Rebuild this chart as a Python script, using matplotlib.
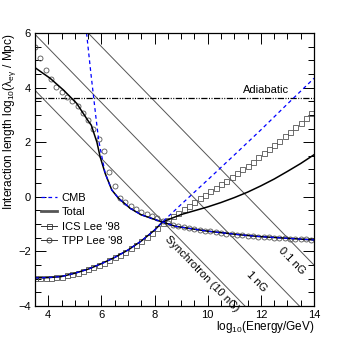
import numpy as np
import matplotlib
matplotlib.use("Agg")
import matplotlib.pyplot as plt
from matplotlib.lines import Line2D

plt.rcParams['font.family'] = ['Liberation Sans', 'DejaVu Sans']
plt.rcParams['mathtext.fontset'] = 'custom'
plt.rcParams['mathtext.rm'] = 'Liberation Sans'
plt.rcParams['mathtext.it'] = 'Liberation Sans:italic'
plt.rcParams['mathtext.default'] = 'regular'

# synchrotron loss lengths (straight lines), end points at x = 3.5 and 14
sync_x = [3.5, 14.0]
sync_10nG = [3.90, -6.60]
sync_1nG = [5.95, -4.55]
sync_01nG = [8.00, -2.50]
adiabatic = 3.63

# CMB only: photon pair production branch and electron ICS branch
cmb_pp_x = [5.44, 5.60, 5.70, 5.80, 5.90, 6.14, 6.39, 6.64, 7.08, 7.50, 8.28, 8.78, 10.0, 11.3, 12.0, 13.0, 14.0]
cmb_pp_y = [6.00, 4.55, 3.70, 2.85, 2.05, 0.86, 0.25, -0.05, -0.42, -0.66, -0.92, -1.08, -1.26, -1.40, -1.46, -1.52, -1.58]
cmb_ics_x = [3.5, 4.0, 4.5, 5.0, 5.5, 6.0, 6.5, 7.0, 7.5, 8.0, 8.3, 9.0, 10.0, 11.0, 12.0, 13.0, 14.0]
cmb_ics_y = [-2.97, -2.96, -2.92, -2.80, -2.65, -2.45, -2.22, -1.95, -1.62, -1.22, -0.92, -0.28, 0.62, 1.53, 2.45, 3.40, 4.34]

# total (all backgrounds)
tot_pp_x = [3.5, 4.07, 4.57, 5.07, 5.50, 5.62, 5.70, 5.83, 5.95, 6.14, 6.39, 6.64, 7.08, 7.50, 8.28, 8.78, 10.0, 11.3, 12.0, 13.0, 14.0]
tot_pp_y = [4.73, 4.34, 3.91, 3.42, 2.78, 2.62, 2.38, 2.00, 1.47, 0.86, 0.25, -0.05, -0.42, -0.66, -0.92, -1.08, -1.26, -1.40, -1.46, -1.52, -1.58]
tot_ics_x = [3.5, 4.0, 4.5, 5.0, 5.5, 6.0, 6.5, 7.0, 7.5, 8.0, 8.3, 9.0, 9.5, 10.0, 10.5, 11.0, 11.5, 12.0, 12.5, 13.0, 13.5, 14.0]
tot_ics_y = [-2.97, -2.96, -2.92, -2.80, -2.65, -2.45, -2.22, -1.95, -1.62, -1.22, -0.92, -0.65, -0.51, -0.37, -0.21, -0.03, 0.17, 0.40, 0.65, 0.93, 1.22, 1.54]

# Lee '98 points
lee_x = [3.5, 3.7, 3.9, 4.1, 4.3, 4.5, 4.7, 4.9, 5.1, 5.3, 5.5, 5.7, 5.9, 6.1, 6.3, 6.5, 6.7, 6.9,
         7.1, 7.3, 7.5, 7.7, 7.9, 8.1, 8.3, 8.5, 8.7, 8.9, 9.1, 9.3, 9.5, 9.7, 9.9, 10.1, 10.3, 10.5,
         10.7, 10.9, 11.1, 11.3, 11.5, 11.7, 11.9, 12.1, 12.3, 12.5, 12.7, 12.9, 13.1, 13.3, 13.5, 13.7, 13.9]
tpp_lee = [5.50, 5.08, 4.66, 4.31, 4.02, 3.84, 3.67, 3.50, 3.31, 3.06, 2.80, 2.50, 2.12, 1.68, 0.92, 0.40, -0.03, -0.20,
           -0.35, -0.46, -0.55, -0.62, -0.69, -0.79, -0.88, -0.96, -1.03, -1.08, -1.12, -1.16, -1.19, -1.22, -1.25, -1.27, -1.30, -1.32,
           -1.35, -1.37, -1.39, -1.41, -1.43, -1.44, -1.46, -1.47, -1.49, -1.50, -1.51, -1.52, -1.53, -1.54, -1.55, -1.56, -1.57]
ics_lee = [-2.97, -2.97, -2.97, -2.96, -2.94, -2.92, -2.88, -2.83, -2.78, -2.72, -2.65, -2.57, -2.49, -2.41, -2.32, -2.22, -2.12, -2.01,
           -1.89, -1.76, -1.62, -1.47, -1.31, -1.14, -0.97, -0.84, -0.71, -0.58, -0.45, -0.32, -0.19, -0.06, 0.07, 0.20, 0.33, 0.46,
           0.59, 0.72, 0.86, 1.00, 1.14, 1.29, 1.44, 1.59, 1.74, 1.90, 2.06, 2.22, 2.38, 2.55, 2.72, 2.89, 3.06]

fig = plt.figure(figsize=(3.49, 3.40), dpi=100)
ax = fig.add_axes([0.1003, 0.10, 0.7994, 0.803])

gray = '#555555'
for ys in (sync_10nG, sync_1nG, sync_01nG):
    ax.plot(sync_x, ys, color=gray, lw=0.7)
ax.axhline(adiabatic, color='black', lw=0.9, dashes=(5, 1.2, 0.8, 1.2, 0.8, 1.2))

ax.plot(lee_x, ics_lee, ls='none', marker='s', ms=3.6, mfc='none', mec='#555555', mew=0.6)
ax.plot(lee_x, tpp_lee, ls='none', marker='o', ms=3.6, mfc='none', mec='#555555', mew=0.6)

ax.plot(tot_pp_x, tot_pp_y, color='black', lw=1.1)
ax.plot(tot_ics_x, tot_ics_y, color='black', lw=1.1)
ax.plot(cmb_pp_x, cmb_pp_y, color='blue', lw=0.9, dashes=(3, 2.5))
ax.plot(cmb_ics_x, cmb_ics_y, color='blue', lw=0.9, dashes=(3, 2.5))

ax.set_xlim(3.5, 14)
ax.set_ylim(-4, 6)
ax.set_xticks([4, 6, 8, 10, 12, 14])
ax.set_yticks([-4, -2, 0, 2, 4, 6])
ax.set_xticks(np.arange(3.5, 14.01, 0.5), minor=True)
ax.set_yticks(np.arange(-4, 6.01, 0.5), minor=True)
ax.tick_params(which='both', direction='in', top=True, right=True, labelsize=8, width=0.7, pad=3)
ax.tick_params(which='major', length=8)
ax.tick_params(which='minor', length=4)
for s in ax.spines.values():
    s.set_linewidth(0.9)

ax.set_xlabel('log$_{10}$(Energy/GeV)', fontsize=8.5, loc='right', labelpad=-1)
ax.set_ylabel('Interaction length log$_{10}$(λ$_{eγ}$ / Mpc)', fontsize=8.6, loc='top')
ax.yaxis.set_label_coords(-0.062, 1.0)

ax.text(12.18, 3.91, 'Adiabatic', fontsize=8, ha='center', va='center')
ang = -45.8
ax.text(9.80, -2.84, 'Synchrotron (10 nG)', fontsize=8, ha='center', va='center', rotation=ang, rotation_mode='anchor')
ax.text(11.83, -3.09, '1 nG', fontsize=8, ha='center', va='center', rotation=ang, rotation_mode='anchor')
ax.text(13.15, -2.35, '0.1 nG', fontsize=8, ha='center', va='center', rotation=ang, rotation_mode='anchor')

handles = [
    Line2D([], [], color='blue', lw=0.9, dashes=(3, 2.5)),
    Line2D([], [], color=gray, lw=2),
    Line2D([], [], color='#333333', lw=0.7, marker='s', ms=3.6, mfc='none', mec='#333333', mew=0.6),
    Line2D([], [], color='#333333', lw=0.7, marker='o', ms=3.6, mfc='none', mec='#333333', mew=0.6),
]
labels = ['CMB', 'Total', "ICS Lee '98", "TPP Lee '98"]
ax.legend(handles, labels, loc='upper left', bbox_to_anchor=(0.02, 0.415), frameon=False, fontsize=8,
          handlelength=1.5, handletextpad=0.4, labelspacing=0.4, borderpad=0, borderaxespad=0)

fig.savefig('out.png', dpi=100)
